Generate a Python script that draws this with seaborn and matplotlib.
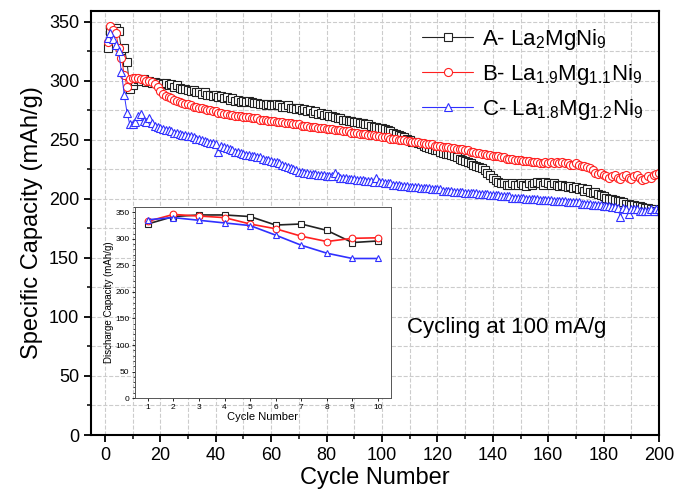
import numpy as np
import pandas as pd
import matplotlib
matplotlib.use("Agg")
import matplotlib.pyplot as plt
import seaborn as sns
from matplotlib.ticker import MultipleLocator

sns.set_style("ticks")
plt.rcParams['font.family'] = ['Liberation Sans', 'DejaVu Sans']
plt.rcParams['mathtext.default'] = 'regular'
plt.rcParams['text.color'] = 'black'
plt.rcParams['axes.labelcolor'] = 'black'
plt.rcParams['xtick.color'] = 'black'
plt.rcParams['ytick.color'] = 'black'

# discharge capacity (mAh/g) per cycle
cap_a = [328, 342, 345, 345, 342, 326, 328, 316, 293, 296,
         300, 301, 300, 301, 299, 300, 298, 299, 297, 298,
         297, 298, 296, 297, 295, 296, 294, 293, 293, 292,
         291, 292, 290, 290, 289, 290, 288, 288, 287, 288,
         286, 287, 285, 286, 284, 285, 283, 284, 282, 283,
         282, 283, 282, 281, 281, 280, 280, 279, 280, 279,
         279, 280, 279, 278, 278, 279, 277, 277, 276, 277,
         275, 276, 274, 275, 273, 274, 272, 273, 271, 272,
         270, 270, 269, 268, 268, 267, 267, 266, 266, 265,
         265, 264, 264, 263, 263, 262, 261, 261, 260, 260,
         259, 258, 257, 256, 255, 254, 253, 252, 251, 250,
         248, 248, 247, 246, 245, 244, 243, 242, 241, 241,
         240, 239, 238, 238, 237, 236, 235, 234, 233, 232,
         231, 230, 229, 228, 227, 226, 224, 222, 220, 218,
         216, 214, 213, 213, 212, 212, 213, 212, 212, 213,
         212, 211, 213, 212, 213, 214, 213, 212, 214, 213,
         212, 213, 212, 211, 212, 211, 210, 211, 209, 210,
         208, 209, 207, 208, 206, 205, 206, 204, 203, 202,
         201, 200, 200, 199, 198, 198, 197, 196, 196, 195,
         195, 194, 194, 193, 192, 192, 191, 191, 190, 190]

cap_b = [333, 346, 343, 340, 328, 319, 305, 295, 301, 302,
         302, 302, 301, 301, 300, 300, 299, 297, 295, 291,
         289, 287, 286, 285, 284, 283, 282, 281, 280, 280,
         279, 278, 278, 277, 277, 276, 275, 275, 274, 274,
         273, 273, 272, 272, 271, 271, 270, 270, 270, 269,
         269, 269, 268, 268, 268, 267, 267, 267, 266, 266,
         266, 265, 265, 265, 264, 264, 264, 263, 263, 263,
         262, 262, 262, 261, 261, 261, 260, 260, 260, 259,
         259, 259, 258, 258, 258, 257, 257, 257, 256, 256,
         256, 255, 255, 255, 254, 254, 254, 253, 253, 252,
         252, 252, 251, 251, 251, 250, 250, 250, 249, 249,
         248, 248, 248, 247, 247, 246, 246, 246, 245, 245,
         245, 244, 244, 244, 243, 243, 242, 242, 242, 241,
         241, 240, 240, 239, 239, 238, 238, 237, 237, 236,
         236, 236, 235, 235, 234, 234, 234, 233, 233, 233,
         232, 232, 232, 231, 231, 231, 230, 230, 231, 230,
         231, 230, 231, 230, 231, 230, 230, 229, 229, 230,
         229, 228, 228, 227, 226, 224, 222, 221, 222, 220,
         219, 218, 219, 220, 218, 217, 219, 220, 218, 217,
         219, 220, 218, 216, 217, 219, 218, 220, 221, 222]

cap_c = [336, 340, 335, 330, 325, 307, 288, 273, 263, 263,
         265, 270, 272, 266, 265, 268, 264, 262, 261, 260,
         259, 258, 258, 257, 256, 256, 255, 254, 254, 253,
         253, 252, 251, 251, 250, 249, 248, 247, 247, 246,
         240, 245, 244, 243, 242, 241, 240, 240, 239, 238,
         237, 237, 236, 236, 235, 235, 234, 233, 233, 232,
         231, 231, 230, 229, 228, 227, 226, 225, 224, 223,
         223, 222, 222, 221, 221, 221, 220, 220, 220, 219,
         219, 219, 222, 219, 218, 218, 218, 217, 217, 217,
         216, 216, 216, 215, 215, 215, 214, 218, 214, 214,
         213, 213, 213, 212, 212, 212, 211, 211, 211, 210,
         210, 210, 210, 209, 209, 209, 209, 208, 208, 208,
         208, 207, 207, 207, 207, 206, 206, 206, 206, 205,
         205, 205, 205, 205, 204, 204, 204, 204, 203, 203,
         203, 203, 202, 202, 202, 202, 201, 201, 201, 201,
         201, 200, 200, 200, 200, 200, 199, 199, 199, 199,
         199, 198, 198, 198, 198, 198, 197, 197, 197, 197,
         197, 196, 196, 196, 196, 195, 195, 195, 195, 194,
         194, 194, 193, 193, 192, 185, 192, 191, 187, 191,
         191, 191, 190, 190, 190, 190, 191, 190, 191, 191]

cycles = list(range(1, len(cap_a) + 1))
inset_n = 10

labels = ['A- La$_2$MgNi$_9$',
          'B- La$_{1.9}$Mg$_{1.1}$Ni$_9$',
          'C- La$_{1.8}$Mg$_{1.2}$Ni$_9$']
colors = ['#222222', '#ff2020', '#3030ff']
markers = ['s', 'o', '^']

df = pd.DataFrame({'cycle': cycles * 3,
                   'capacity': cap_a + cap_b + cap_c,
                   'sample': np.repeat(labels, len(cycles))})

fig = plt.figure(figsize=(6.76, 4.97), dpi=100)
ax = fig.add_axes([0.1346, 0.1247, 0.8404, 0.8532])

for lab, col, mk in zip(labels, colors, markers):
    sub = df[df['sample'] == lab]
    sns.lineplot(data=sub, x='cycle', y='capacity', ax=ax, color=col,
                 linewidth=0.7, marker=mk, markersize=5.8,
                 markerfacecolor='white', markeredgecolor=col,
                 markeredgewidth=0.8, label=lab)

ax.set_xlim(-5, 200)
ax.set_ylim(0, 359)
ax.xaxis.set_major_locator(MultipleLocator(20))
ax.xaxis.set_minor_locator(MultipleLocator(10))
ax.yaxis.set_major_locator(MultipleLocator(50))
ax.yaxis.set_minor_locator(MultipleLocator(25))
ax.grid(which='both', color='#cccccc', linestyle='--', linewidth=0.8)
ax.set_axisbelow(True)
ax.tick_params(which='major', direction='out', length=5, width=1.3,
               labelsize=13)
ax.tick_params(which='minor', direction='out', length=3, width=1.1)
for sp in ax.spines.values():
    sp.set_linewidth(1.5)
    sp.set_color('black')
ax.set_xlabel('Cycle Number', fontsize=17, labelpad=2)
ax.set_ylabel('Specific Capacity (mAh/g)', fontsize=17, labelpad=4)

leg = ax.legend(loc='upper right', frameon=False, fontsize=16,
                handlelength=2.3, handletextpad=0.4, labelspacing=0.45,
                borderaxespad=0.3, bbox_to_anchor=(1.0, 1.0))
for h in leg.get_lines():
    h.set_linewidth(0.8)

ax.text(109, 91, 'Cycling at 100 mA/g', fontsize=16, ha='left', va='center')

# inset: first ten cycles
ins = fig.add_axes([0.1997, 0.199, 0.3783, 0.3845])
ins.set_facecolor('white')
for lab, col, mk in zip(labels, colors, markers):
    sub = df[(df['sample'] == lab) & (df['cycle'] <= inset_n)]
    sns.lineplot(data=sub, x='cycle', y='capacity', ax=ins, color=col,
                 linewidth=1.2, marker=mk, markersize=4.8,
                 markerfacecolor='white', markeredgecolor=col,
                 markeredgewidth=0.8, legend=False)
ins.set_xlim(0.5, 10.5)
ins.set_ylim(0, 360)
ins.xaxis.set_major_locator(MultipleLocator(1))
ins.yaxis.set_major_locator(MultipleLocator(50))
ins.yaxis.set_minor_locator(MultipleLocator(10))
ins.tick_params(which='major', direction='out', length=2.5, width=0.6,
                labelsize=6, pad=1.5)
ins.tick_params(which='minor', direction='out', length=1.5, width=0.5)
for sp in ins.spines.values():
    sp.set_linewidth(0.7)
    sp.set_color('#555555')
ins.set_xlabel('Cycle Number', fontsize=8, labelpad=1)
ins.set_ylabel('Discharge Capacity (mAh/g)', fontsize=7, labelpad=1)

fig.savefig('out.png', dpi=100)
